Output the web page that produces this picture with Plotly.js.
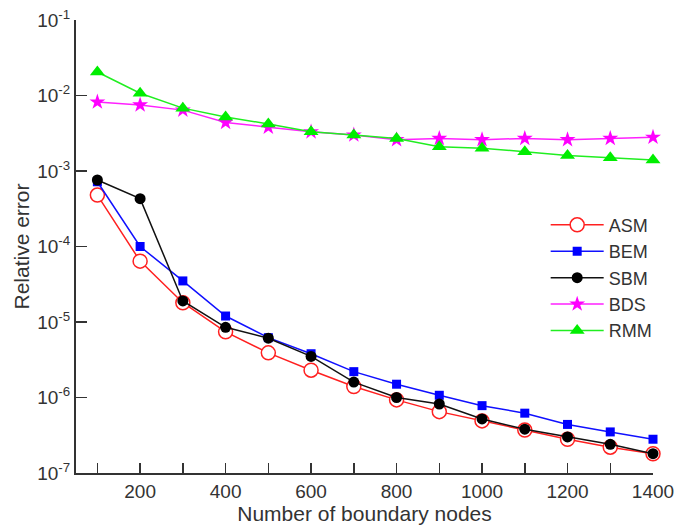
<!DOCTYPE html>
<html>
<head>
<meta charset="utf-8">
<script src="https://cdn.plot.ly/plotly-3.0.1.min.js"></script>
<style>html,body{margin:0;padding:0;background:#fff;}#chart{width:675px;height:530px;}</style>
</head>
<body>
<div id="chart"></div>
<script>
const nodes = [100,200,300,400,500,600,700,800,900,1000,1100,1200,1300,1400];
const asm = [4.8e-4,6.4e-5,1.8e-5,7.4e-6,3.9e-6,2.3e-6,1.4e-6,9.3e-7,6.5e-7,4.9e-7,3.7e-7,2.8e-7,2.2e-7,1.8e-7];
const bem = [7.2e-4,1.0e-4,3.5e-5,1.2e-5,6.2e-6,3.8e-6,2.2e-6,1.5e-6,1.07e-6,7.8e-7,6.2e-7,4.4e-7,3.5e-7,2.8e-7];
const sbm = [7.6e-4,4.3e-4,1.9e-5,8.5e-6,6.1e-6,3.5e-6,1.6e-6,1.0e-6,8.2e-7,5.2e-7,3.8e-7,3.0e-7,2.4e-7,1.8e-7];
const bds = [8.2e-3,7.5e-3,6.4e-3,4.4e-3,3.8e-3,3.3e-3,3.0e-3,2.6e-3,2.7e-3,2.6e-3,2.7e-3,2.6e-3,2.7e-3,2.8e-3];
const rmm = [2.05e-2,1.07e-2,6.8e-3,5.2e-3,4.2e-3,3.3e-3,3.0e-3,2.7e-3,2.1e-3,2.0e-3,1.8e-3,1.6e-3,1.5e-3,1.4e-3];
const names = ['ASM','BEM','SBM','BDS','RMM'];
const yTickVals = [1e-7,1e-6,1e-5,1e-4,1e-3,1e-2,1e-1];
const yTickText = ['10<sup>-7</sup>','10<sup>-6</sup>','10<sup>-5</sup>','10<sup>-4</sup>','10<sup>-3</sup>','10<sup>-2</sup>','10<sup>-1</sup>'];

const font = 'Liberation Sans, Arial, sans-serif';
const txt = '#333';
function tr(y, name, color, marker) {
  return {x: nodes, y: y, name: name, type: 'scatter', mode: 'lines+markers',
    line: {color: color, width: 1.5}, marker: marker, cliponaxis: false};
}
const data = [
  tr(asm, names[0], '#ff2020', {symbol: 'circle', size: 14, color: '#ffffff', line: {color: '#ff2020', width: 1.5}}),
  tr(bem, names[1], '#1010ff', {symbol: 'square', size: 9, color: '#0000ff', line: {width: 0}}),
  tr(sbm, names[2], '#111111', {symbol: 'circle', size: 11, color: '#000000', line: {width: 0}}),
  tr(bds, names[3], '#ff20ff', {symbol: 'star', size: 12, color: '#ff00ff', line: {width: 0}}),
  tr(rmm, names[4], '#20ee20', {symbol: 'triangle-up', size: 13, color: '#00ee00', line: {width: 0}})
];
const layout = {
  width: 675, height: 530,
  margin: {l: 76, r: 22, t: 20, b: 57},
  paper_bgcolor: '#fff', plot_bgcolor: '#fff',
  font: {family: font, size: 19, color: txt},
  showlegend: true,
  legend: {x: 0.814, y: 0.588, xanchor: 'left', yanchor: 'top', bgcolor: 'rgba(0,0,0,0)',
    font: {family: font, size: 18, color: txt}, itemwidth: 53, tracegroupgap: 0},
  xaxis: {range: [50, 1400], tick0: 200, dtick: 200,
    ticks: 'inside', ticklen: 10, tickwidth: 1.5, tickcolor: txt,
    minor: {dtick: 100, ticks: 'inside', ticklen: 10, tickwidth: 1.5, tickcolor: txt, showgrid: false},
    showgrid: false, zeroline: false,
    showline: true, linecolor: txt, linewidth: 2,
    title: {text: 'Number of boundary nodes', font: {family: font, size: 21, color: txt}, standoff: 2}},
  yaxis: {type: 'log', range: [-7, -1], tickmode: 'array', tickvals: yTickVals, ticktext: yTickText,
    ticks: 'inside', ticklen: 11, tickwidth: 1.5, tickcolor: txt, showgrid: false, zeroline: false,
    showline: true, linecolor: txt, linewidth: 2,
    title: {text: 'Relative error', font: {family: font, size: 21, color: txt}, standoff: 2}}
};
Plotly.newPlot('chart', data, layout, {staticPlot: true});
</script>
</body>
</html>
